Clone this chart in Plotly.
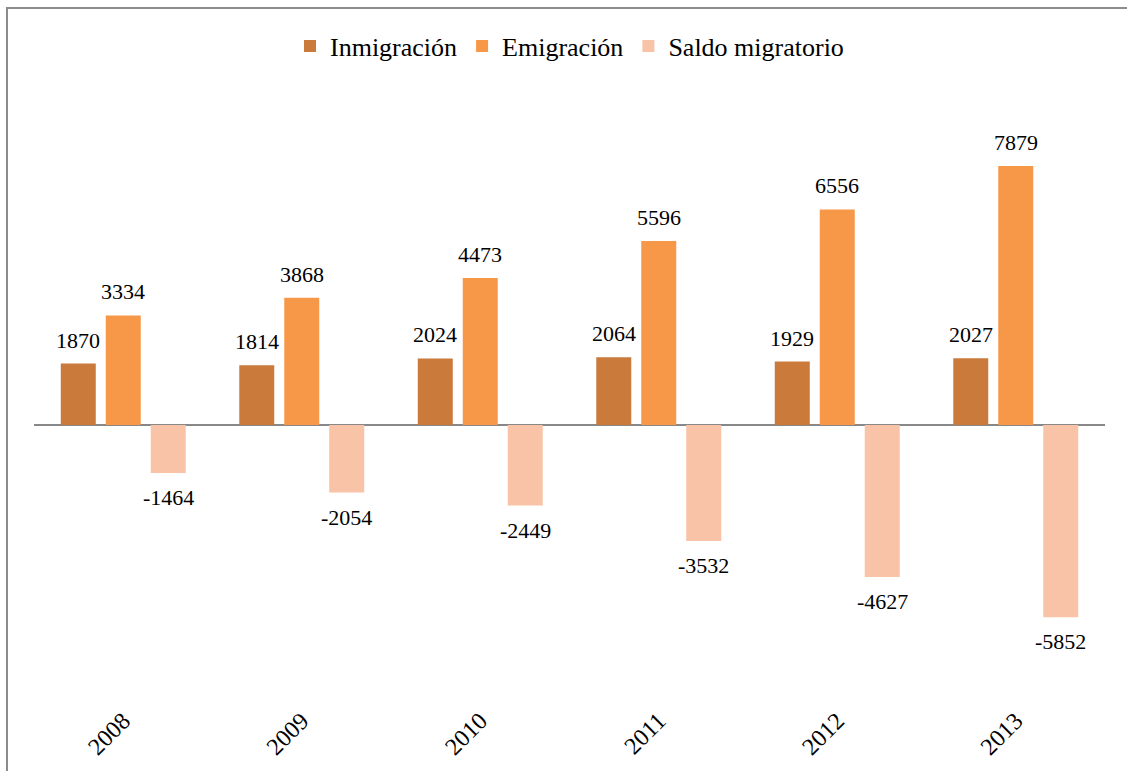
import plotly.graph_objects as go

years = ["2008", "2009", "2010", "2011", "2012", "2013"]
inmigracion = [1870, 1814, 2024, 2064, 1929, 2027]
emigracion = [3334, 3868, 4473, 5596, 6556, 7879]
saldo = [-1464, -2054, -2449, -3532, -4627, -5852]

series = [
    ("Inmigración", inmigracion, "#CA7A3A"),
    ("Emigración", emigracion, "#F79848"),
    ("Saldo migratorio", saldo, "#F9C3A8"),
]

FONT = "Liberation Serif, Times New Roman, serif"
BARGAP = 0.244
GROUPGAP = 0.222

fig = go.Figure()
for name, vals, color in series:
    fig.add_trace(go.Bar(
        x=years, y=vals, name=name,
        marker=dict(color=color, line=dict(width=0)),
        hoverinfo="x+y+name",
    ))

# value labels as annotations placed through the axes
slot = (1 - BARGAP) / len(series)
annotations = []
for k, (name, vals, color) in enumerate(series):
    off = (k - (len(series) - 1) / 2) * slot
    for i, v in enumerate(vals):
        annotations.append(dict(
            xref="x", yref="y", x=i + off, y=v, text=str(v),
            showarrow=False,
            yanchor="bottom" if v >= 0 else "top",
            yshift=9 if v >= 0 else -10,
            font=dict(family=FONT, size=22, color="#000000"),
        ))

W, H = 1127, 771
L, R, T, B = 34, 22, 80, 76
plot_h = H - T - B
zero_px = 425
scale = (zero_px - 166) / 7879.0
ymax = (zero_px - T) / scale
ymin = -(H - B - zero_px) / scale

fig.update_layout(
    template="none",
    width=W, height=H,
    margin=dict(l=L, r=R, t=T, b=B, pad=0),
    paper_bgcolor="white", plot_bgcolor="white",
    barmode="group", bargap=BARGAP, bargroupgap=GROUPGAP,
    font=dict(family=FONT, size=22, color="#000000"),
    showlegend=True,
    legend=dict(orientation="h", x=0.5, xanchor="center",
                y=(H - B - 46) / plot_h, yanchor="middle",
                font=dict(family=FONT, size=26, color="#000000"),
                bgcolor="rgba(0,0,0,0)", itemwidth=30),
    xaxis=dict(type="category", showline=False, showgrid=False, ticks="",
               tickangle=-45, automargin=False, range=[-0.5, 5.5],
               ticklabelstandoff=6,
               tickfont=dict(family=FONT, size=24, color="#000000")),
    yaxis=dict(range=[ymin, ymax], showgrid=False, showticklabels=False,
               zeroline=True, zerolinecolor="#888888", zerolinewidth=2,
               showline=False, ticks="", automargin=False),
    annotations=annotations,
    shapes=[dict(type="rect", xref="paper", yref="paper",
                 x0=(7 - L) / (W - L - R), x1=1.1,
                 y0=-0.3, y1=(H - B - 8) / plot_h,
                 line=dict(color="#8C8C8C", width=2), fillcolor="rgba(0,0,0,0)",
                 layer="below")],
)

fig.write_html("out.html", config={"displayModeBar": False},
               post_script="document.body.style.margin='0';document.body.style.overflow='hidden';")
